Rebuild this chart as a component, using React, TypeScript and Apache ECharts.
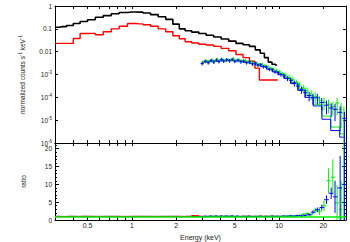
import React, { useEffect, useRef } from 'react';
import * as echarts from 'echarts';

// ---------- data (energies in keV) ----------
const blackE = [0.30,0.34,0.38,0.42,0.47,0.53,0.60,0.68,0.77,0.87,1.00,1.12,1.26,1.42,1.60,1.80,2.00,2.20,2.40,2.70,3.00,3.40,3.80,4.30,4.80,5.40,6.00,6.60,7.20,7.70,8.20,8.70,9.20,9.70];
const blackV = [0.117,0.125,0.14,0.17,0.21,0.25,0.32,0.38,0.46,0.52,0.55,0.54,0.49,0.42,0.34,0.26,0.16,0.10,0.083,0.072,0.062,0.052,0.044,0.036,0.029,0.023,0.020,0.017,0.012,0.0085,0.0055,0.0035,0.0028,0.0026];
const blackRatio = [1.02,1.0,1.03,1.01,1.04,1.0,1.02,1.03,1.01,1.0,1.02,1.01,1.03,1.0,1.02,1.04,1.01,1.0,1.03,1.02,1.0,1.04,1.01,1.03,1.0,1.02,1.05,1.01,1.03,1.0,1.04,1.02,1.06,1.03];

const redE = [0.30,0.34,0.38,0.42,0.47,0.53,0.60,0.68,0.77,0.87,1.00,1.12,1.26,1.42,1.60,1.80,2.00,2.20,2.40,2.70,3.00,3.40,3.80,4.30,4.80,5.40,6.00,6.60,7.10,7.60,8.40,9.20,9.80];
const redV = [0.023,0.023,0.023,0.038,0.062,0.063,0.055,0.075,0.10,0.13,0.17,0.165,0.15,0.13,0.10,0.075,0.05,0.037,0.027,0.024,0.021,0.0195,0.017,0.014,0.011,0.0075,0.0055,0.0038,0.0019,0.00057,0.00057,0.00057,0.00057];
const redRatio = [1.0,0.98,1.01,0.99,1.0,1.02,0.98,1.0,1.01,0.99,1.0,1.02,0.99,1.01,1.0,0.98,1.02,1.0,1.01,1.25,1.02,0.99,1.03,1.0,1.02,0.98,1.04,1.0,1.03,1.05,1.02,1.0,1.03];

const blueE = [3.0,3.15,3.3,3.45,3.6,3.75,3.9,4.05,4.2,4.4,4.6,4.8,5.0,5.25,5.5,5.75,6.0,6.3,6.6,6.9,7.2,7.5,7.85,8.2,8.6,9.0,9.4,9.85,10.3,10.8,11.4,12.0,12.7,13.4,14.2,15.0,16.0,17.0,18.2,19.5,21.0,22.6,24.0,26.0,27.8];
const blueV = [0.0030,0.0038,0.0033,0.0041,0.0035,0.0043,0.0037,0.0045,0.0039,0.0044,0.0040,0.0046,0.0038,0.0042,0.0036,0.0039,0.0033,0.0035,0.0029,0.0031,0.0026,0.0027,0.0022,0.0021,0.0017,0.0016,0.0013,0.0012,0.0010,0.00085,0.00068,0.00055,0.00042,0.00031,0.00022,0.00016,0.00012,0.000095,0.000095,0.00006,0.000045,0.000034,0.00003,0.000022,0.000012];
const blueErr = [0.18,0.18,0.18,0.18,0.18,0.18,0.18,0.18,0.18,0.18,0.18,0.18,0.18,0.18,0.18,0.18,0.18,0.18,0.18,0.18,0.18,0.18,0.18,0.18,0.18,0.18,0.18,0.18,0.2,0.22,0.25,0.28,0.3,0.33,0.35,0.4,0.45,0.5,0.5,0.55,0.6,0.6,0.7,0.85,0.95];
const blueRatio = [0.95,1.05,0.92,1.08,0.97,1.1,0.95,1.12,1.0,1.08,1.02,1.12,0.98,1.06,0.96,1.04,0.97,1.03,0.94,1.02,0.98,1.05,0.96,1.0,0.98,1.08,0.96,1.05,1.02,1.1,1.05,1.15,1.08,1.2,1.15,1.3,1.5,2.2,2.9,3.5,5.7,7.5,6.5,9,10];
const blueRatioErr = [0.12,0.12,0.12,0.12,0.12,0.12,0.12,0.12,0.12,0.12,0.12,0.12,0.12,0.12,0.12,0.12,0.12,0.12,0.12,0.12,0.12,0.12,0.12,0.12,0.12,0.12,0.12,0.12,0.15,0.15,0.18,0.2,0.22,0.25,0.28,0.3,0.4,0.5,0.6,0.8,1.2,1.6,4.5,9,16];
const blueModelE = [3.0,3.5,4.0,4.5,5.0,5.5,6.0,6.6,7.2,7.85,8.6,9.4,10.3,11.4,12.7,14.2,16.0,18.2,21.0,24.0,27.8];
const blueModelV = [0.0036,0.0038,0.0040,0.0041,0.0040,0.0038,0.0034,0.0030,0.0026,0.0022,0.0017,0.0013,0.00098,0.00066,0.00040,0.00020,0.0001,0.000042,0.000011,0.0000035,0.0000018];

const greenE = [3.05,3.2,3.35,3.5,3.65,3.8,3.95,4.1,4.3,4.5,4.7,4.9,5.1,5.35,5.6,5.9,6.15,6.45,6.75,7.05,7.35,7.7,8.0,8.4,8.8,9.2,9.6,10.1,10.6,11.1,11.7,12.4,13.1,13.8,14.6,15.5,16.5,17.6,18.8,20.2,21.7,23.2,24.8,26.4,27.6];
const greenV = [0.0034,0.0040,0.0036,0.0044,0.0038,0.0046,0.0040,0.0047,0.0041,0.0045,0.0042,0.0048,0.0040,0.0044,0.0038,0.0041,0.0035,0.0036,0.0031,0.0032,0.0027,0.0028,0.0024,0.0022,0.0019,0.0017,0.0015,0.0013,0.0011,0.00092,0.00075,0.0006,0.00046,0.00035,0.00026,0.00019,0.00014,0.00011,0.000075,0.00006,0.00005,0.00004,0.000056,0.00003,0.00002];
const greenErr = [0.18,0.18,0.18,0.18,0.18,0.18,0.18,0.18,0.18,0.18,0.18,0.18,0.18,0.18,0.18,0.18,0.18,0.18,0.18,0.18,0.18,0.18,0.18,0.18,0.18,0.18,0.18,0.18,0.2,0.22,0.25,0.28,0.3,0.33,0.35,0.4,0.45,0.5,0.5,0.55,0.6,0.6,0.7,0.85,0.95];
const greenRatio = [1.0,0.94,1.06,0.98,1.1,0.96,1.08,1.0,1.12,0.97,1.06,1.02,1.1,0.96,1.04,0.98,1.06,0.95,1.02,1.0,1.08,0.97,1.05,1.0,1.1,0.98,1.06,1.04,1.12,1.06,1.15,1.1,1.22,1.3,1.6,1.8,1.5,2.6,2.4,4.0,11,12,4.8,3.0,10];
const greenRatioErr = [0.12,0.12,0.12,0.12,0.12,0.12,0.12,0.12,0.12,0.12,0.12,0.12,0.12,0.12,0.12,0.12,0.12,0.12,0.12,0.12,0.12,0.12,0.12,0.12,0.12,0.12,0.12,0.12,0.15,0.18,0.2,0.22,0.25,0.3,0.4,0.5,0.6,0.8,1.0,1.5,3.5,5,5,8,16];
const greenModelE = [3.0,3.5,4.0,4.5,5.0,5.5,6.0,6.6,7.2,7.85,8.6,9.4,10.3,11.4,12.7,14.2,16.0,18.2,21.0,24.0,27.8];
const greenModelV = [0.0037,0.0040,0.0042,0.0043,0.0042,0.0040,0.0036,0.0031,0.0027,0.0023,0.0018,0.0014,0.0011,0.00074,0.00045,0.00024,0.00012,0.00005,0.000015,0.000005,0.0000025];

const xTickE = [0.3,0.4,0.5,0.6,0.7,0.8,0.9,1,2,3,4,5,6,7,8,9,10,20];
const xLabelE = [0.5,1,2,5,10,20];
const ratioTicks = [0,5,10,15,20];
const E_MIN = 0.3;
const E_MAX = 28.5;

// ---------- helpers ----------
const L = Math.log10;
const FONT = 'Liberation Sans, Arial, sans-serif';
const TXT = '#222';
const AX = '#000';
const BLUE = '#0000ff';
const GREEN = '#00ee00';

function edges(E: number[]) {
  const lg = E.map(L);
  return lg.map((v, i) => {
    const lo = i > 0 ? (lg[i - 1] + v) / 2 : v - (lg[1] - v) / 2;
    const hi = i < lg.length - 1 ? (lg[i + 1] + v) / 2 : v + (v - lg[i - 1]) / 2;
    return [v, lo, hi];
  });
}

function crossSeries(E: number[], V: number[], err: number[], color: string, ratio: boolean) {
  const ed = edges(E);
  const data = E.map((_, i) => {
    const v = V[i];
    let lo: number, hi: number;
    if (ratio) { lo = v - err[i]; hi = v + err[i]; }
    else { lo = err[i] >= 1 ? 1e-7 : v * (1 - err[i]); hi = v * (1 + err[i]); }
    return [ed[i][0], ed[i][1], ed[i][2], v, lo, hi];
  });
  return {
    type: 'custom',
    xAxisIndex: ratio ? 2 : 0,
    yAxisIndex: ratio ? 2 : 0,
    encode: { x: 0, y: 3 },
    data,
    silent: true,
    renderItem: (params: any, api: any) => {
      const cs = params.coordSys;
      const clampX = (x: number) => Math.max(cs.x, Math.min(cs.x + cs.width, x));
      const clampY = (y: number) => Math.max(cs.y, Math.min(cs.y + cs.height, y));
      const x = api.value(0), xl = api.value(1), xh = api.value(2);
      const y = api.value(3), yl = api.value(4), yh = api.value(5);
      const c = api.coord([x, y]);
      const a = api.coord([xl, y]);
      const b = api.coord([xh, y]);
      const d = api.coord([x, yl]);
      const u = api.coord([x, yh]);
      const st = { stroke: color, lineWidth: 1 };
      const children: any[] = [];
      if (c[1] >= cs.y && c[1] <= cs.y + cs.height) {
        children.push({ type: 'line', shape: { x1: clampX(a[0]), y1: c[1], x2: clampX(b[0]), y2: c[1] }, style: st });
      }
      children.push({ type: 'line', shape: { x1: c[0], y1: clampY(d[1]), x2: c[0], y2: clampY(u[1]) }, style: st });
      return { type: 'group', children };
    },
    z: 3,
  };
}

function stepSeries(E: number[], V: number[], color: string, width: number, xi: number, yi: number, z = 2) {
  return {
    type: 'line',
    xAxisIndex: xi,
    yAxisIndex: yi,
    data: E.map((e, i) => [L(e), V[i]]),
    step: 'middle',
    showSymbol: false,
    symbol: 'none',
    lineStyle: { color, width },
    silent: true,
    z,
  };
}

function xAxis(grid: number, position: string, labels: boolean, name?: string) {
  return {
    type: 'value',
    gridIndex: grid,
    position,
    min: L(E_MIN),
    max: L(E_MAX),
    name: name || '',
    nameLocation: 'middle',
    nameGap: 14,
    nameTextStyle: { fontSize: 7, color: TXT, fontFamily: FONT },
    axisLine: { show: true, onZero: false, lineStyle: { color: AX, width: 1 } },
    axisTick: { show: true, inside: true, length: 3, customValues: xTickE.map(L), lineStyle: { color: AX, width: 1 } },
    axisLabel: {
      show: labels,
      customValues: xLabelE.map(L),
      fontSize: 7,
      color: TXT,
      fontFamily: FONT,
      margin: 2,
      formatter: (v: number) => {
        const e = Math.pow(10, v);
        return e < 1 ? e.toFixed(1) : String(Math.round(e));
      },
    },
    splitLine: { show: false },
  };
}

function logYAxis(position: string, labels: boolean) {
  return {
    type: 'log',
    logBase: 10,
    gridIndex: 0,
    position,
    min: 1e-6,
    max: 1,
    name: labels ? 'normalized counts s{sup|-1} keV{sup|-1}' : '',
    nameLocation: 'middle',
    nameRotate: 90,
    nameGap: 28,
    nameTextStyle: {
      fontSize: 6.5, color: TXT, fontFamily: FONT, lineHeight: 9,
      rich: { sup: { fontSize: 4.5, verticalAlign: 'top', lineHeight: 5, color: TXT, fontFamily: FONT } },
    },
    axisLine: { show: true, onZero: false, lineStyle: { color: AX, width: 1 } },
    axisTick: { show: true, inside: true, length: 3, lineStyle: { color: AX } },
    axisLabel: {
      show: labels,
      fontSize: 6.5,
      color: TXT,
      fontFamily: FONT,
      margin: 3,
      lineHeight: 9,
      formatter: (v: number) => {
        const e = Math.round(L(v));
        if (e >= -2) return String(Math.pow(10, e));
        return '10{sup|' + e + '}';
      },
      rich: { sup: { fontSize: 4.5, verticalAlign: 'top', lineHeight: 5, color: TXT, fontFamily: FONT } },
    },
    splitLine: { show: false },
  };
}

function ratioYAxis(position: string, labels: boolean) {
  return {
    type: 'value',
    gridIndex: 1,
    position,
    min: 0,
    max: 21.6,
    interval: 5,
    name: labels ? 'ratio' : '',
    nameLocation: 'middle',
    nameRotate: 90,
    nameGap: 28,
    nameTextStyle: { fontSize: 6.5, color: TXT, fontFamily: FONT },
    axisLine: { show: true, onZero: false, lineStyle: { color: AX, width: 1 } },
    axisTick: { show: true, inside: true, length: 4, customValues: ratioTicks, lineStyle: { color: AX } },
    minorTick: { show: true, splitNumber: 5, length: 2, lineStyle: { color: AX } },
    axisLabel: { show: labels, customValues: ratioTicks, fontSize: 6.5, color: TXT, fontFamily: FONT, margin: 3 },
    splitLine: { show: false },
    minorSplitLine: { show: false },
  };
}

const option: any = {
  animation: false,
  backgroundColor: '#fff',
  textStyle: { fontFamily: FONT },
  grid: [
    { left: 55, right: 4, top: 6, height: 137 },
    { left: 55, right: 4, top: 143, height: 82 },
  ],
  xAxis: [
    xAxis(0, 'bottom', false),
    xAxis(0, 'top', false),
    xAxis(1, 'bottom', true, 'Energy (keV)'),
    xAxis(1, 'top', false),
  ],
  yAxis: [
    logYAxis('left', true),
    logYAxis('right', false),
    ratioYAxis('left', true),
    ratioYAxis('right', false),
  ],
  series: [
    // top panel
    stepSeries(blackE, blackV, '#000', 1.6, 0, 0),
    stepSeries(redE, redV, '#ff0000', 1.4, 0, 0),
    stepSeries(greenModelE, greenModelV, GREEN, 1, 0, 0),
    stepSeries(blueModelE, blueModelV, BLUE, 1, 0, 0),
    crossSeries(greenE, greenV, greenErr, GREEN, false),
    crossSeries(blueE, blueV, blueErr, BLUE, false),
    // ratio panel
    stepSeries(blackE, blackRatio, '#000', 1, 2, 2),
    stepSeries(redE, redRatio, '#ff0000', 1, 2, 2),
    {
      type: 'line',
      xAxisIndex: 2,
      yAxisIndex: 2,
      data: [],
      silent: true,
      markLine: {
        silent: true,
        symbol: ['none', 'none'],
        label: { show: false },
        lineStyle: { color: GREEN, width: 1.5, type: 'solid' },
        data: [{ yAxis: 1 }],
      },
      z: 4,
    },
    crossSeries(greenE, greenRatio, greenRatioErr, GREEN, true),
    crossSeries(blueE, blueRatio, blueRatioErr, BLUE, true),
  ],
};

export default function App() {
  const ref = useRef<HTMLDivElement>(null);
  useEffect(() => {
    const chart = echarts.init(ref.current as HTMLDivElement, null, { renderer: 'svg' });
    chart.setOption(option);
    return () => chart.dispose();
  }, []);
  return (
    <div
      ref={ref}
      style={{ position: 'fixed', left: 0, top: 0, width: 350, height: 242, background: '#fff' }}
    />
  );
}
